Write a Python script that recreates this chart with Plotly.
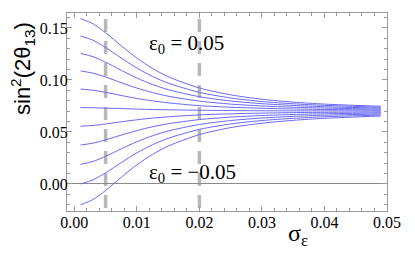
import plotly.graph_objects as go

# sigma_epsilon sample points
sigma = [0.001, 0.003, 0.005, 0.0075, 0.01, 0.0125, 0.015, 0.02, 0.025, 0.03, 0.035, 0.04, 0.049]

# sin^2(2 theta_13) curves, eps0 from 0.05 down to -0.05
eps0_p05 = [0.1590, 0.1540, 0.1454, 0.1329, 0.1211, 0.1111, 0.1032, 0.0923, 0.0857, 0.0815, 0.0787, 0.0768, 0.0747]
eps0_p04 = [0.1423, 0.1382, 0.1312, 0.1211, 0.1115, 0.1034, 0.0970, 0.0881, 0.0827, 0.0793, 0.0771, 0.0756, 0.0738]
eps0_p03 = [0.1256, 0.1224, 0.1171, 0.1093, 0.1019, 0.0957, 0.0907, 0.0839, 0.0798, 0.0772, 0.0755, 0.0743, 0.0729]
eps0_p02 = [0.1087, 0.1065, 0.1028, 0.0974, 0.0922, 0.0879, 0.0844, 0.0797, 0.0768, 0.0750, 0.0738, 0.0730, 0.0720]
eps0_p01 = [0.0913, 0.0901, 0.0881, 0.0851, 0.0822, 0.0799, 0.0780, 0.0753, 0.0738, 0.0728, 0.0721, 0.0716, 0.0711]
eps0_0 = [0.0735, 0.0733, 0.0729, 0.0725, 0.0720, 0.0716, 0.0713, 0.0709, 0.0706, 0.0704, 0.0703, 0.0703, 0.0702]
eps0_m01 = [0.0555, 0.0563, 0.0577, 0.0598, 0.0617, 0.0633, 0.0646, 0.0664, 0.0675, 0.0681, 0.0686, 0.0689, 0.0692]
eps0_m02 = [0.0374, 0.0393, 0.0424, 0.0470, 0.0513, 0.0550, 0.0579, 0.0619, 0.0643, 0.0658, 0.0668, 0.0675, 0.0683]
eps0_m03 = [0.0188, 0.0217, 0.0266, 0.0338, 0.0406, 0.0463, 0.0509, 0.0572, 0.0610, 0.0634, 0.0650, 0.0661, 0.0673]
eps0_m04 = [0.0000, 0.0040, 0.0107, 0.0205, 0.0299, 0.0377, 0.0439, 0.0525, 0.0577, 0.0610, 0.0631, 0.0646, 0.0663]
eps0_m05 = [-0.0200, -0.0149, -0.0063, 0.0064, 0.0184, 0.0284, 0.0364, 0.0475, 0.0542, 0.0584, 0.0612, 0.0631, 0.0653]

curves = [eps0_p05, eps0_p04, eps0_p03, eps0_p02, eps0_p01, eps0_0,
          eps0_m01, eps0_m02, eps0_m03, eps0_m04, eps0_m05]

ref_sigmas = [0.005, 0.02]
x_ticks = [0.00, 0.01, 0.02, 0.03, 0.04, 0.05]
x_ticklabels = ["0.00", "0.01", "0.02", "0.03", "0.04", "0.05"]
y_ticks = [0.00, 0.05, 0.10, 0.15]
y_ticklabels = ["0.00", "0.05", "0.10", "0.15"]
label_top = "ε<sub>0</sub> = 0.05"
label_bottom = "ε<sub>0</sub> = −0.05"

fig = go.Figure()

for xs in ref_sigmas:
    fig.add_shape(type="line", xref="x", yref="y", x0=xs, x1=xs, y0=0.1798, y1=-0.035,
                  line=dict(color="#b8b8b8", width=3.5, dash="13px,9px"), layer="below")

for c in curves:
    fig.add_trace(go.Scatter(x=sigma, y=c, mode="lines",
                             line=dict(color="rgb(105,105,245)", width=1, shape="spline", smoothing=0.8),
                             showlegend=False, hoverinfo="skip"))

serif = "Liberation Serif"
sans = "Liberation Sans"
frame = "#9a9a9a"

L, R, T, B = 67, 28, 13, 66
PW, PH = 415 - L - R, 277 - T - B

fig.update_layout(
    width=415, height=277,
    margin=dict(l=L, r=R, t=T, b=B, autoexpand=False),
    paper_bgcolor="white", plot_bgcolor="white",
    font=dict(family=serif, color="black"),
    xaxis=dict(range=[-0.00117, 0.05], showgrid=False, zeroline=False, automargin=False,
               showline=True, linecolor=frame, linewidth=1, mirror="allticks",
               ticks="inside", ticklen=5, tickcolor=frame, tickwidth=1,
               tickvals=x_ticks, ticktext=x_ticklabels, ticklabelstandoff=-3,
               tickfont=dict(family=serif, size=16, color="black"),
               minor=dict(dtick=0.002, tick0=0, ticks="inside", ticklen=3, tickcolor=frame, tickwidth=1)),
    yaxis=dict(range=[-0.026, 0.1644], showgrid=False, zeroline=True, automargin=False,
               zerolinecolor="#8a8a8a", zerolinewidth=1,
               showline=True, linecolor=frame, linewidth=1, mirror="allticks",
               ticks="inside", ticklen=5, tickcolor=frame, tickwidth=1,
               tickvals=y_ticks, ticktext=y_ticklabels, ticklabelstandoff=-5,
               tickfont=dict(family=serif, size=16, color="black"),
               minor=dict(dtick=0.01, tick0=0, ticks="inside", ticklen=3, tickcolor=frame, tickwidth=1)),
    annotations=[
        dict(text=label_top, x=0.0117, y=0.135, xref="x", yref="y", xanchor="left", yanchor="middle",
             showarrow=False, font=dict(family=serif, size=21, color="black")),
        dict(text=label_bottom, x=0.0117, y=0.0105, xref="x", yref="y", xanchor="left", yanchor="middle",
             showarrow=False, font=dict(family=serif, size=21, color="black")),
        dict(text="sin<sup>2</sup>(2θ<sub>13</sub>)", x=(22 - L) / PW, y=(277 - B - 69) / PH,
             xref="paper", yref="paper",
             xanchor="center", yanchor="middle", textangle=-90, showarrow=False,
             font=dict(family=sans, size=22, color="black")),
        dict(text="σ<sub>ε</sub>", x=(298 - L) / PW, y=(277 - B - 235) / PH, xref="paper", yref="paper",
             xanchor="center", yanchor="middle", showarrow=False,
             font=dict(family=serif, size=24, color="black")),
    ],
)

fig.write_html("out.html", config={"displayModeBar": False},
               post_script="document.body.style.margin='0';document.body.style.padding='0';")
